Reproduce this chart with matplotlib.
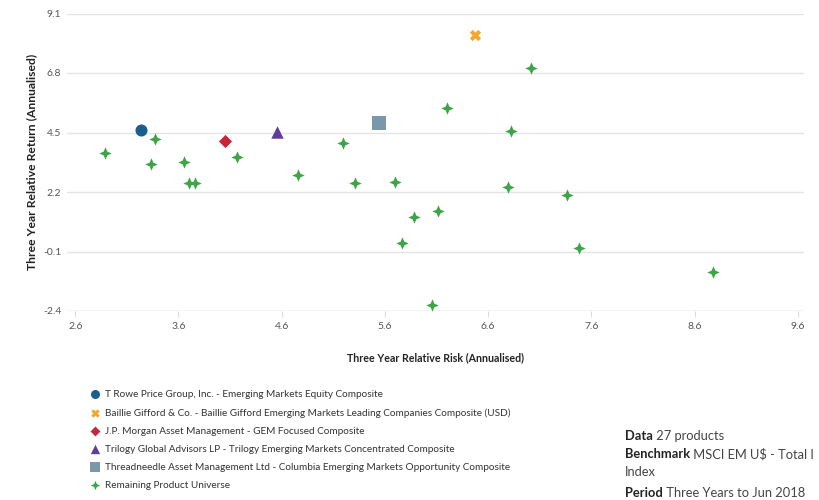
import matplotlib
matplotlib.use('Agg')
import matplotlib.pyplot as plt

plt.rcParams['font.family'] = ['Lato', 'DejaVu Sans']

# highlighted products: (risk, return)
highlight_names = [
    'T Rowe Price Group, Inc. - Emerging Markets Equity Composite',
    'Baillie Gifford & Co. - Baillie Gifford Emerging Markets Leading Companies Composite (USD)',
    'J.P. Morgan Asset Management - GEM Focused Composite',
    'Trilogy Global Advisors LP - Trilogy Emerging Markets Concentrated Composite',
    'Threadneedle Asset Management Ltd - Columbia Emerging Markets Opportunity Composite',
]
highlight_risk = [3.24, 6.47, 4.05, 4.55, 5.54]
highlight_return = [4.61, 8.27, 4.18, 4.53, 4.88]

# remaining product universe
universe_risk = [2.89, 3.37, 3.33, 3.65, 3.70, 3.76, 4.17, 4.76, 5.19, 5.31, 5.70,
                 5.88, 5.77, 7.02, 6.20, 6.82, 6.79, 7.36, 6.11, 7.48, 8.78, 6.06]
universe_return = [3.72, 4.24, 3.30, 3.35, 2.53, 2.53, 3.55, 2.85, 4.11, 2.53, 2.57,
                   1.24, 0.22, 7.00, 5.46, 4.57, 2.40, 2.09, 1.45, 0.04, -0.89, -2.16]

x_ticks = [2.6, 3.6, 4.6, 5.6, 6.6, 7.6, 8.6, 9.6]
y_ticks = [-2.4, -0.1, 2.2, 4.5, 6.8, 9.1]

colors = ['#1a5e8e', '#f4a62a', '#c9243a', '#5f3c9c', '#7b98aa']
markers = ['o', 'X', 'D', '^', 's']
sizes = [75, 65, 45, 80, 95]
green = '#3ca546'
star4 = [(0, 1), (0.3, 0.3), (1, 0), (0.3, -0.3), (0, -1), (-0.3, -0.3), (-1, 0), (-0.3, 0.3), (0, 1)]

fig = plt.figure(figsize=(8.2, 5), dpi=100)
ax = fig.add_axes([0.0817, 0.378, 0.8988, 0.595])

handles = []
for i in range(len(highlight_names)):
    h = ax.scatter(highlight_risk[i], highlight_return[i], c=colors[i], marker=markers[i],
                   s=sizes[i], linewidths=0, zorder=3, label=highlight_names[i])
    handles.append(h)
h = ax.scatter(universe_risk, universe_return, c=green, marker=star4, s=80,
               linewidths=0, zorder=3, label='Remaining Product Universe')
handles.append(h)

ax.set_xlim(2.52, 9.66)
ax.set_ylim(-2.4, 9.1)
ax.set_xticks(x_ticks)
ax.set_yticks(y_ticks)
ax.set_xticklabels([str(t) for t in x_ticks])
ax.set_yticklabels([str(t) for t in y_ticks])
ax.grid(axis='y', color='#e4e4e4', linewidth=1)
ax.set_axisbelow(True)
for s in ['top', 'right', 'left', 'bottom']:
    ax.spines[s].set_visible(False)
ax.tick_params(axis='y', length=0, pad=4, labelsize=7.5, labelcolor='#555555')
ax.tick_params(axis='x', length=4, color='#dddddd', pad=4, labelsize=7.5, labelcolor='#555555')
ax.axhline(-2.4, color='#e4e4e4', linewidth=1, zorder=0)

ax.set_xlabel('Three Year Relative Risk (Annualised)', fontsize=7.7, fontweight='bold',
              color='#222222', labelpad=15)
ax.set_ylabel('Three Year Relative Return (Annualised)', fontsize=8.7, fontweight='bold',
              color='#222222', labelpad=4)

leg = fig.legend(handles=handles, loc='upper left', bbox_to_anchor=(0.106, 0.228),
                 frameon=False, fontsize=7.2, handletextpad=0.5, labelspacing=0.9,
                 borderaxespad=0, handlelength=0.9, scatterpoints=1, markerscale=0.75)
for t in leg.get_texts():
    t.set_color('#333333')

# info block at bottom right
info = [('Data', ' 27 products'),
        ('Benchmark', ' MSCI EM U$ - Total I'),
        ('', 'Index'),
        ('Period', ' Three Years to Jun 2018')]
info_y = [0.12, 0.084, 0.048, 0.006]
fig.canvas.draw()
r = fig.canvas.get_renderer()
x0 = 625 / 820
for (b, n), y in zip(info, info_y):
    xb = x0
    if b:
        tb = fig.text(x0, y, b, fontsize=9.3, fontweight='bold', color='#222222', va='baseline')
        w = tb.get_window_extent(renderer=r).width / fig.bbox.width
        xb = x0 + w
    fig.text(xb, y, n, fontsize=9.3, color='#444444', va='baseline')

fig.savefig('out.png', dpi=100)
